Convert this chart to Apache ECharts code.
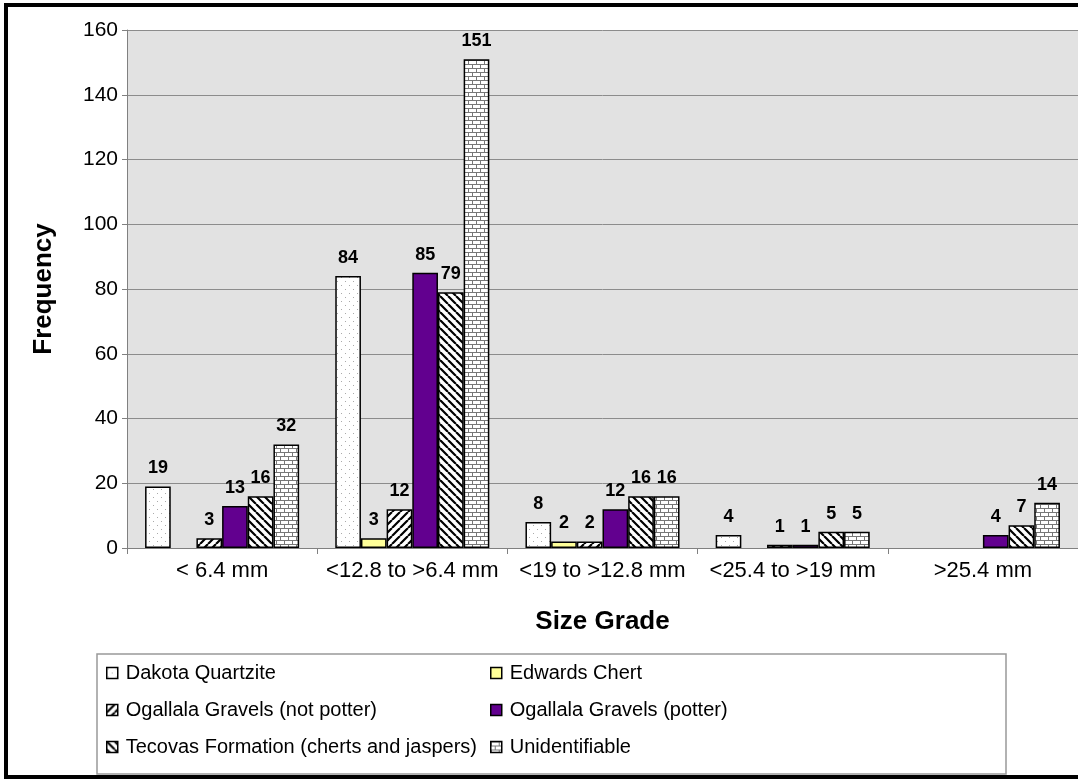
<!DOCTYPE html>
<html>
<head>
<meta charset="utf-8">
<script src="https://cdn.jsdelivr.net/npm/echarts@6/dist/echarts.min.js"></script>
<style>
html,body{margin:0;padding:0;background:#fff}
#chart{width:1078px;height:782px}
</style>
</head>
<body>
<div id="chart"></div>
<script>
const categories=['< 6.4 mm','<12.8 to >6.4 mm','<19 to >12.8 mm','<25.4 to >19 mm','>25.4 mm']
const seriesNames=['Dakota Quartzite','Edwards Chert','Ogallala Gravels (not potter)','Ogallala Gravels (potter)','Tecovas Formation (cherts and jaspers)','Unidentifiable']
const dakota=[19,84,8,4,null]
const edwards=[null,3,2,null,null]
const notPotter=[3,12,2,1,null]
const potter=[13,85,12,1,4]
const tecovas=[16,79,16,5,7]
const unident=[32,151,16,5,14]
const yTicks=[0,20,40,60,80,100,120,140,160]

// fill patterns like the old excel ones
function makePattern(kind){
  const c=document.createElement('canvas')
  const s=8
  c.width=s;c.height=s
  const g=c.getContext('2d')
  g.fillStyle='#fff'
  g.fillRect(0,0,s,s)
  if(kind==='dots'){
    g.fillStyle='#aaa'
    g.fillRect(1,1,1,1)
    g.fillRect(5,5,1,1)
  }else if(kind==='fwd'||kind==='back'){
    g.strokeStyle='#000'
    g.lineWidth=2.2
    g.beginPath()
    for(let k=-1;k<=1;k++){
      if(kind==='fwd'){g.moveTo(k*s,s);g.lineTo(k*s+s,0)}
      else{g.moveTo(k*s,0);g.lineTo(k*s+s,s)}
    }
    g.stroke()
  }else if(kind==='brick'){
    g.strokeStyle='#777'
    g.lineWidth=1
    g.beginPath()
    g.moveTo(0,0.5);g.lineTo(s,0.5)
    g.moveTo(0,4.5);g.lineTo(s,4.5)
    g.moveTo(0.5,0);g.lineTo(0.5,4)
    g.moveTo(4.5,4);g.lineTo(4.5,8)
    g.stroke()
  }
  return {image:c,repeat:'repeat'}
}

const fills=[makePattern('dots'),'#ffff99',makePattern('fwd'),'#62008f',makePattern('back'),makePattern('brick')]
const dataSets=[dakota,edwards,notPotter,potter,tecovas,unident]

const legendStyle={
  orient:'vertical',top:663,itemGap:17,itemWidth:11,itemHeight:11,padding:0,icon:'rect',
  textStyle:{fontSize:20,color:'#000',padding:[0,0,0,3]},
  itemStyle:{borderColor:'#000',borderWidth:1.5}
}

const myChart=echarts.init(document.querySelector('#chart'))
const option={
  animation:false,
  textStyle:{fontFamily:'Liberation Sans, Arial, sans-serif'},
  grid:{left:127,right:-5,top:30,bottom:234,backgroundColor:'#e2e2e2',show:true,borderWidth:0},
  graphic:[
    {type:'rect',shape:{x:6,y:5,width:1100,height:772},style:{fill:'none',stroke:'#000',lineWidth:4},z:0},
    {type:'rect',shape:{x:97,y:654,width:909,height:120},style:{fill:'#fff',stroke:'#999',lineWidth:1.5},z:0}
  ],
  legend:[
    Object.assign({data:[seriesNames[0],seriesNames[2],seriesNames[4]],left:106},legendStyle),
    Object.assign({data:[seriesNames[1],seriesNames[3],seriesNames[5]],left:490},legendStyle)
  ],
  xAxis:{
    type:'category',
    data:categories,
    name:'Size Grade',
    nameLocation:'middle',
    nameGap:61,
    nameTextStyle:{fontSize:26,fontWeight:'bold',color:'#000'},
    axisLine:{lineStyle:{color:'#808080',width:1}},
    axisTick:{show:true,length:6,lineStyle:{color:'#808080'}},
    axisLabel:{fontSize:22,color:'#000',margin:12,interval:0,hideOverlap:false}
  },
  yAxis:{
    type:'value',
    min:yTicks[0],max:yTicks[yTicks.length-1],interval:20,
    name:'Frequency',
    nameLocation:'middle',
    nameGap:70,
    nameRotate:90,
    nameTextStyle:{fontSize:26,fontWeight:'bold',color:'#000'},
    axisLine:{show:true,lineStyle:{color:'#808080',width:1}},
    axisTick:{show:true,length:5,lineStyle:{color:'#808080'}},
    axisLabel:{fontSize:21,color:'#000',margin:9},
    splitLine:{lineStyle:{color:'#8c8c8c',width:1}}
  },
  series:dataSets.map((d,i)=>({
    name:seriesNames[i],
    type:'bar',
    data:d,
    barGap:'0%',
    barCategoryGap:'19%',
    itemStyle:{color:fills[i],borderColor:'#000',borderWidth:1.5},
    label:{show:true,position:'top',distance:9,fontSize:18,fontWeight:'bold',color:'#000'}
  }))
}
myChart.setOption(option)
</script>
</body>
</html>
